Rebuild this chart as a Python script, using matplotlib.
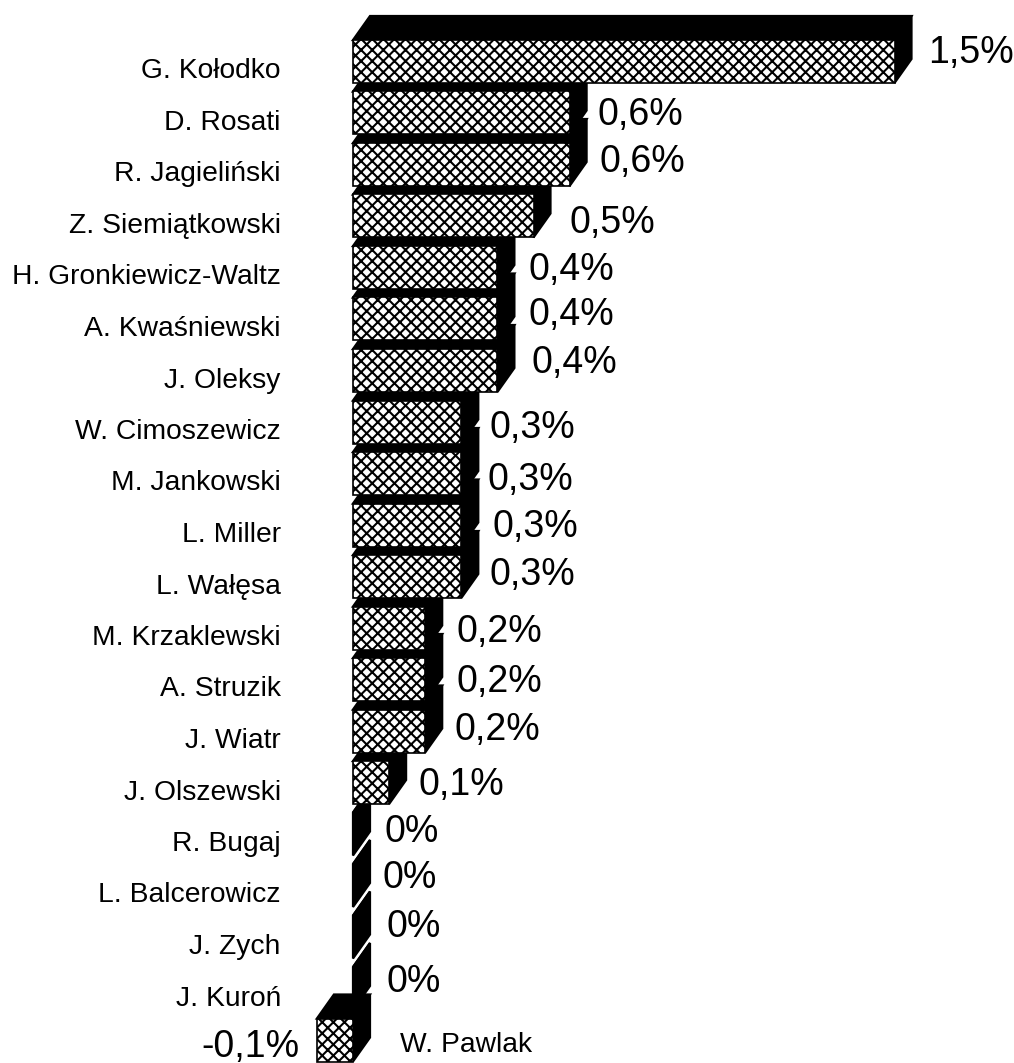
import matplotlib
matplotlib.use("Agg")
import matplotlib.pyplot as plt
from matplotlib.patches import Polygon

plt.rcParams['font.family'] = ['Liberation Sans', 'DejaVu Sans']
plt.rcParams['hatch.linewidth'] = 1.5

# data (top to bottom)
names = ["G. Kołodko", "D. Rosati", "R. Jagieliński", "Z. Siemiątkowski",
         "H. Gronkiewicz-Waltz", "A. Kwaśniewski", "J. Oleksy", "W. Cimoszewicz",
         "M. Jankowski", "L. Miller", "L. Wałęsa", "M. Krzaklewski", "A. Struzik",
         "J. Wiatr", "J. Olszewski", "R. Bugaj", "L. Balcerowicz", "J. Zych",
         "J. Kuroń", "W. Pawlak"]
values = [1.5, 0.6, 0.6, 0.5, 0.4, 0.4, 0.4, 0.3, 0.3, 0.3, 0.3,
          0.2, 0.2, 0.2, 0.1, 0.0, 0.0, 0.0, 0.0, -0.1]

# value label nudges in pixels (x from bar end, baseline below bar centre)
label_dx = [17, 11, 13, 19, 14, 14, 17, 11, 9, 14, 11, 14, 14, 12, 12, 15, 12, 17, 17, -17]
label_dy = [1.5, 12, 7.5, 17, 12.5, 6, 2.5, 16, 16.5, 12, 8.5, 14, 12.5, 9, 12.5, 8, 2.5, 0, 3.5, 16.5]

W, H = 1014, 1063
fig = plt.figure(figsize=(W / 100, H / 100), dpi=100)
ax = fig.add_axes([0, 0, 1, 1])
ax.axis('off')

# 361 px per 1 %, zero at x=353 px; rows 51.5 px apart, first at 61.5 px
ax.set_xlim(-353 / 361, (W - 353) / 361)
ax.set_ylim((H - 61.5) / 51.5, -61.5 / 51.5)

h = 43 / 51.5 / 2        # half height of front face
ddx = 17 / 361           # depth offset
ddy = -24 / 51.5

def fmt(v):
    if v == 0:
        return "0%"
    return f"{v:.1f}%".replace('.', ',')

n = len(values)
for i in range(n - 1, -1, -1):
    v = values[i]
    x0, x1 = min(0, v), max(0, v)
    top = Polygon([(x0, i - h), (x1, i - h), (x1 + ddx, i - h + ddy), (x0 + ddx, i - h + ddy)],
                  closed=True, facecolor='black', edgecolor='black', lw=1.6)
    side = Polygon([(x1, i - h), (x1, i + h), (x1 + ddx, i + h + ddy), (x1 + ddx, i - h + ddy)],
                   closed=True, facecolor='black', edgecolor='black', lw=1.6)
    ax.add_patch(top)
    ax.add_patch(side)
    if x1 > x0:
        ax.add_patch(plt.Rectangle((x0, i - h), x1 - x0, 2 * h, facecolor='white',
                                   edgecolor='black', hatch='xxx', lw=1.2))

    if v >= 0:
        ax.annotate(fmt(v), xy=(x1 + ddx, i), xytext=(label_dx[i], -label_dy[i]),
                    textcoords='offset pixels', ha='left', va='baseline', fontsize=27)
        ax.annotate(names[i], xy=(-0.2, i), xytext=(0, -17), textcoords='offset pixels',
                    ha='right', va='baseline', fontsize=20.3)
    else:
        ax.annotate(fmt(v), xy=(x0, i), xytext=(label_dx[i], -label_dy[i]),
                    textcoords='offset pixels', ha='right', va='baseline', fontsize=27)
        ax.annotate(names[i], xy=(0.13, i), xytext=(0, -12.5), textcoords='offset pixels',
                    ha='left', va='baseline', fontsize=20.3)

fig.savefig("out.png", dpi=100)
